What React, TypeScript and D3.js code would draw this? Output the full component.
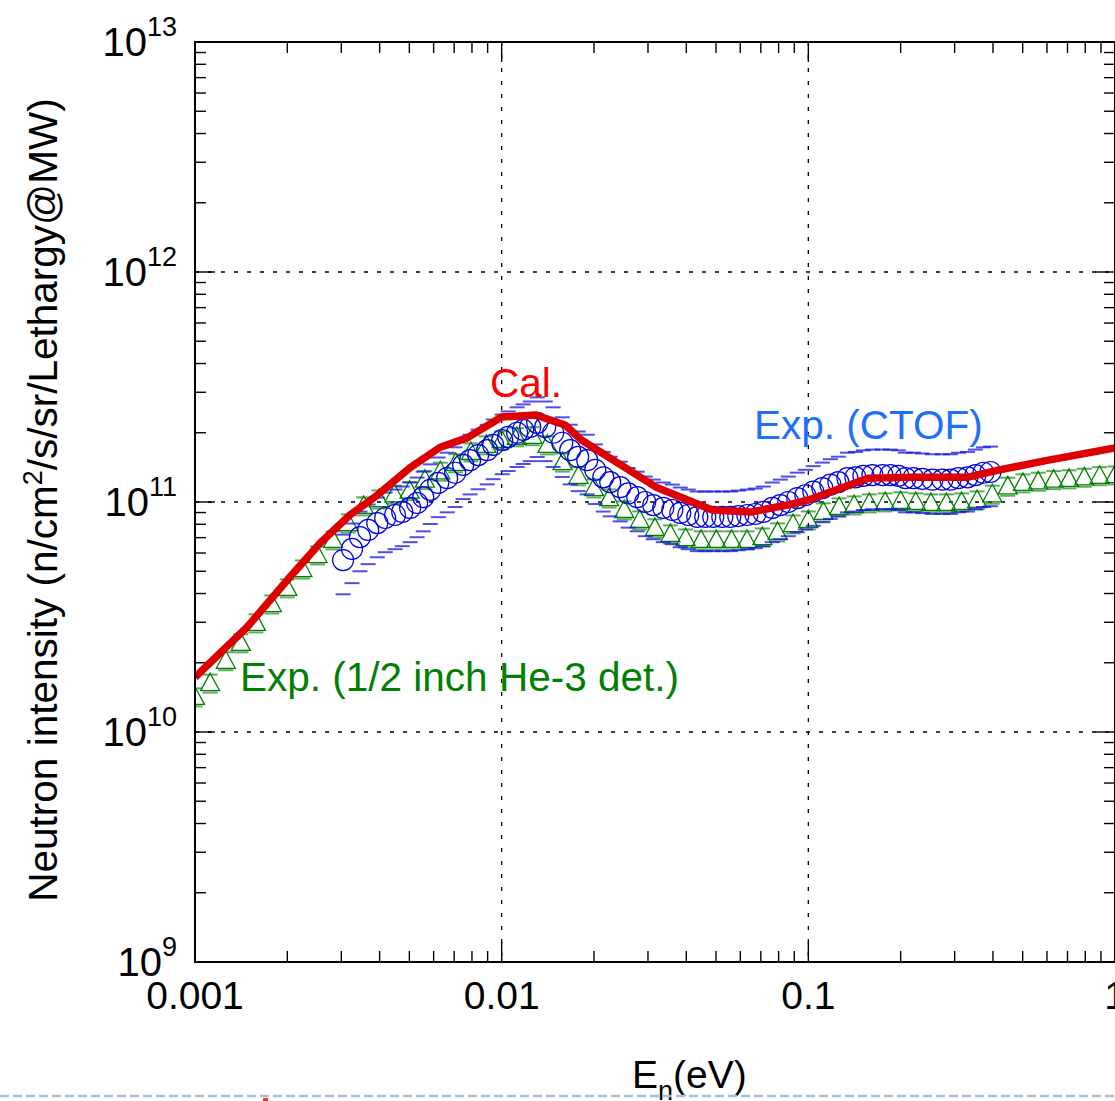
import React from "react";
import * as d3 from "d3";

// ---- Data ----
const calEnergy = [0.001, 0.00148, 0.00204, 0.00256, 0.0032, 0.00393, 0.00503, 0.0063, 0.00772, 0.01, 0.0129, 0.0161, 0.0182, 0.0231, 0.0319, 0.0486, 0.0652, 0.0854, 0.1, 0.13, 0.157, 0.222, 0.33, 0.42, 0.607, 1.0];
const calIntensity = [1.73e10, 2.86e10, 4.72e10, 6.63e10, 8.78e10, 1.07e11, 1.41e11, 1.73e11, 1.9e11, 2.34e11, 2.39e11, 2.16e11, 1.86e11, 1.52e11, 1.16e11, 9.23e10, 9.05e10, 9.7e10, 1.02e11, 1.16e11, 1.27e11, 1.28e11, 1.28e11, 1.38e11, 1.52e11, 1.72e11];

const he3Energy = [0.001, 0.00112, 0.00126, 0.00141, 0.00158, 0.00178, 0.002, 0.00224, 0.00251, 0.00282, 0.00316, 0.00355, 0.00398, 0.00447, 0.00501, 0.00562, 0.00631, 0.00708, 0.00794, 0.00891, 0.01, 0.0112, 0.0126, 0.0141, 0.0158, 0.0178, 0.02, 0.0224, 0.0251, 0.0282, 0.0316, 0.0355, 0.0398, 0.0447, 0.0501, 0.0562, 0.0631, 0.0708, 0.0794, 0.0891, 0.1, 0.112, 0.126, 0.141, 0.158, 0.178, 0.2, 0.224, 0.251, 0.282, 0.316, 0.355, 0.398, 0.447, 0.501, 0.562, 0.631, 0.708, 0.794, 0.891, 1.0];
const he3Intensity = [1.42e10, 1.63e10, 2.04e10, 2.44e10, 2.98e10, 3.6e10, 4.23e10, 5.11e10, 5.88e10, 6.84e10, 8.1e10, 9.61e10, 1.03e11, 1.08e11, 1.12e11, 1.25e11, 1.36e11, 1.48e11, 1.65e11, 1.77e11, 1.86e11, 1.92e11, 1.94e11, 1.77e11, 1.49e11, 1.3e11, 1.15e11, 1.04e11, 9.23e10, 8.35e10, 7.71e10, 7.26e10, 6.97e10, 6.84e10, 6.84e10, 6.84e10, 6.84e10, 7.04e10, 7.41e10, 8.02e10, 8.35e10, 9.05e10, 9.51e10, 9.7e10, 9.9e10, 1.0e11, 1.01e11, 1.0e11, 9.9e10, 9.9e10, 1.0e11, 1.02e11, 1.08e11, 1.17e11, 1.21e11, 1.23e11, 1.25e11, 1.26e11, 1.28e11, 1.3e11, 1.31e11];
const he3RelError = 0.09;

const ctofEnergy = [0.00304, 0.00325, 0.00345, 0.00367, 0.00393, 0.00417, 0.00449, 0.00474, 0.00503, 0.0053, 0.00555, 0.00585, 0.00621, 0.00664, 0.00705, 0.00749, 0.00789, 0.00838, 0.00897, 0.00938, 0.01004, 0.0105, 0.01123, 0.01175, 0.01239, 0.01306, 0.01387, 0.01472, 0.01576, 0.01673, 0.01776, 0.01901, 0.02019, 0.02144, 0.02259, 0.02436, 0.02586, 0.02768, 0.02938, 0.03121, 0.03365, 0.03601, 0.03823, 0.0406, 0.04344, 0.04612, 0.04898, 0.05242, 0.05566, 0.0591, 0.06324, 0.06715, 0.07131, 0.07628, 0.08101, 0.08602, 0.09207, 0.09777, 0.1038, 0.1111, 0.118, 0.1253, 0.1341, 0.1424, 0.1512, 0.1618, 0.1744, 0.1852, 0.1966, 0.2073, 0.2201, 0.2355, 0.2539, 0.2736, 0.2906, 0.3086, 0.3303, 0.3507, 0.3724, 0.3925];
const ctofIntensity = [5.59e10, 6.25e10, 7.04e10, 7.56e10, 8.1e10, 8.52e10, 8.78e10, 9.05e10, 9.42e10, 9.9e10, 1.05e11, 1.13e11, 1.21e11, 1.27e11, 1.34e11, 1.45e11, 1.52e11, 1.6e11, 1.68e11, 1.77e11, 1.86e11, 1.92e11, 2.0e11, 2.06e11, 2.12e11, 2.21e11, 2.12e11, 2.0e11, 1.81e11, 1.68e11, 1.57e11, 1.52e11, 1.38e11, 1.28e11, 1.22e11, 1.16e11, 1.09e11, 1.05e11, 1.0e11, 9.7e10, 9.42e10, 9.23e10, 8.96e10, 8.78e10, 8.61e10, 8.61e10, 8.61e10, 8.61e10, 8.61e10, 8.69e10, 8.78e10, 8.87e10, 9.05e10, 9.42e10, 9.7e10, 1.0e11, 1.04e11, 1.07e11, 1.11e11, 1.15e11, 1.19e11, 1.22e11, 1.27e11, 1.28e11, 1.3e11, 1.31e11, 1.31e11, 1.31e11, 1.3e11, 1.27e11, 1.27e11, 1.26e11, 1.25e11, 1.25e11, 1.25e11, 1.27e11, 1.28e11, 1.31e11, 1.34e11, 1.35e11];
const ctofRelError = 0.29;

const xTickLabels = ["0.001", "0.01", "0.1", "1"];
const xTickValues = [0.001, 0.01, 0.1, 1];
const yTickExponents = [9, 10, 11, 12, 13];

const FONT = "'Liberation Sans', Arial, Helvetica, sans-serif";

export default function App() {
  const x = d3.scaleLog().domain([0.001, 1]).range([195, 1115]);
  const y = d3.scaleLog().domain([1e9, 1e13]).range([962, 42]);
  const [x0, x1] = x.range();
  const [y0, y1] = y.range();

  const xt = x.ticks();
  const yt = y.ticks();
  const isMajor = (v: number) => Math.abs(Math.log10(v) - Math.round(Math.log10(v))) < 1e-6;

  const calLine = d3
    .line<number>()
    .x((_, i) => x(calEnergy[i]))
    .y((d) => y(d))(calIntensity);

  const tri = (cx: number, cy: number) =>
    `M${cx},${cy - 10}L${cx + 9.5},${cy + 7.5}L${cx - 9.5},${cy + 7.5}Z`;

  const capW = 7.5;

  return (
    <svg
      width={1115}
      height={1101}
      style={{ position: "absolute", left: 0, top: 0, background: "#fff" }}
      fontFamily={FONT}
    >
      <defs>
        <clipPath id="plot">
          <rect x={x0} y={y1} width={x1 - x0} height={y0 - y1} />
        </clipPath>
      </defs>
      <rect x={0} y={0} width={1115} height={1101} fill="#fff" />

      {/* grid */}
      {xTickValues.slice(1, 3).map((v) => (
        <line key={"gx" + v} x1={x(v)} x2={x(v)} y1={y1} y2={y0} stroke="#000" strokeWidth={1.3} strokeDasharray="4,9" />
      ))}
      {yTickExponents.slice(1, 4).map((e) => (
        <line key={"gy" + e} x1={x0} x2={x1} y1={y(Math.pow(10, e))} y2={y(Math.pow(10, e))} stroke="#000" strokeWidth={1.3} strokeDasharray="4,9" />
      ))}

      {/* ticks */}
      {xt.map((v, i) => {
        const L = isMajor(v) ? 20 : 11;
        return (
          <g key={"xt" + i}>
            <line x1={x(v)} x2={x(v)} y1={y0} y2={y0 - L} stroke="#000" strokeWidth={1.4} />
            <line x1={x(v)} x2={x(v)} y1={y1} y2={y1 + L} stroke="#000" strokeWidth={1.4} />
          </g>
        );
      })}
      {yt.map((v, i) => {
        const L = isMajor(v) ? 20 : 11;
        return (
          <g key={"yt" + i}>
            <line x1={x0} x2={x0 + L} y1={y(v)} y2={y(v)} stroke="#000" strokeWidth={1.4} />
            <line x1={x1} x2={x1 - L} y1={y(v)} y2={y(v)} stroke="#000" strokeWidth={1.4} />
          </g>
        );
      })}

      <g clipPath="url(#plot)">
        {/* He-3 error caps */}
        {he3Energy.map((e, i) => {
          const cx = x(e);
          const up = y(he3Intensity[i] * (1 + he3RelError));
          const lo = y(he3Intensity[i] * (1 - he3RelError));
          return (
            <g key={"he" + i} stroke="#1a8a1a" strokeWidth={2} opacity={0.7}>
              <line x1={cx - capW} x2={cx + capW} y1={up} y2={up} />
              <line x1={cx - capW} x2={cx + capW} y1={lo} y2={lo} />
            </g>
          );
        })}
        {he3Energy.map((e, i) => (
          <path key={"ht" + i} d={tri(x(e), y(he3Intensity[i]))} fill="none" stroke="#008000" strokeWidth={1.3} />
        ))}

        {/* CTOF error caps */}
        {ctofEnergy.map((e, i) => {
          const cx = x(e);
          const up = y(ctofIntensity[i] * (1 + ctofRelError));
          const lo = y(ctofIntensity[i] * (1 - ctofRelError));
          return (
            <g key={"ce" + i} stroke="#1515e0" strokeWidth={2} opacity={0.75}>
              <line x1={cx - capW} x2={cx + capW} y1={up} y2={up} />
              <line x1={cx - capW} x2={cx + capW} y1={lo} y2={lo} />
            </g>
          );
        })}
        {ctofEnergy.map((e, i) => (
          <circle key={"cc" + i} cx={x(e)} cy={y(ctofIntensity[i])} r={10.5} fill="none" stroke="#0000e6" strokeWidth={1.2} />
        ))}

        {/* calculation */}
        <path d={calLine || ""} fill="none" stroke="#dd0000" strokeWidth={7.5} strokeLinejoin="round" />
      </g>

      {/* frame */}
      <rect x={x0} y={y1} width={x1 - x0} height={y0 - y1} fill="none" stroke="#000" strokeWidth={2} />

      {/* x tick labels */}
      {xTickValues.map((v, i) => (
        <text key={"xl" + i} x={x(v)} y={1009} textAnchor="middle" fontSize={39} fill="#000">
          {xTickLabels[i]}
        </text>
      ))}

      {/* y tick labels */}
      {yTickExponents.map((e) => (
        <text key={"yl" + e} x={177} y={y(Math.pow(10, e)) + 14} textAnchor="end" fontSize={40} fill="#000">
          <tspan>10</tspan>
          <tspan dy={-20} fontSize={27}>{e}</tspan>
        </text>
      ))}

      {/* axis titles */}
      <text x={632} y={1088} fontSize={39} fill="#000">
        <tspan>E</tspan>
        <tspan dy={12} fontSize={27}>n</tspan>
        <tspan dy={-12}>(eV)</tspan>
      </text>
      <text transform="translate(57,500) rotate(-90)" textAnchor="middle" fontSize={40.5} fill="#000">
        <tspan>Neutron intensity (n/cm</tspan>
        <tspan dy={-15} fontSize={27}>2</tspan>
        <tspan dy={15}>/s/sr/Lethargy@MW)</tspan>
      </text>

      {/* annotations */}
      <text x={490} y={397} fontSize={40.5} fill="#ff0000">Cal.</text>
      <text x={754} y={439} fontSize={40.5} fill="#1f6fff">Exp. (CTOF)</text>
      <text x={240} y={691} fontSize={40.5} fill="#008000">Exp. (1/2 inch He-3 det.)</text>

      {/* slide separator */}
      <line x1={0} x2={1115} y1={1096} y2={1096} stroke="#a9bfd4" strokeWidth={2.5} strokeDasharray="9,4" />
      <rect x={263} y={1098} width={5} height={3} fill="#ff3030" />
    </svg>
  );
}
